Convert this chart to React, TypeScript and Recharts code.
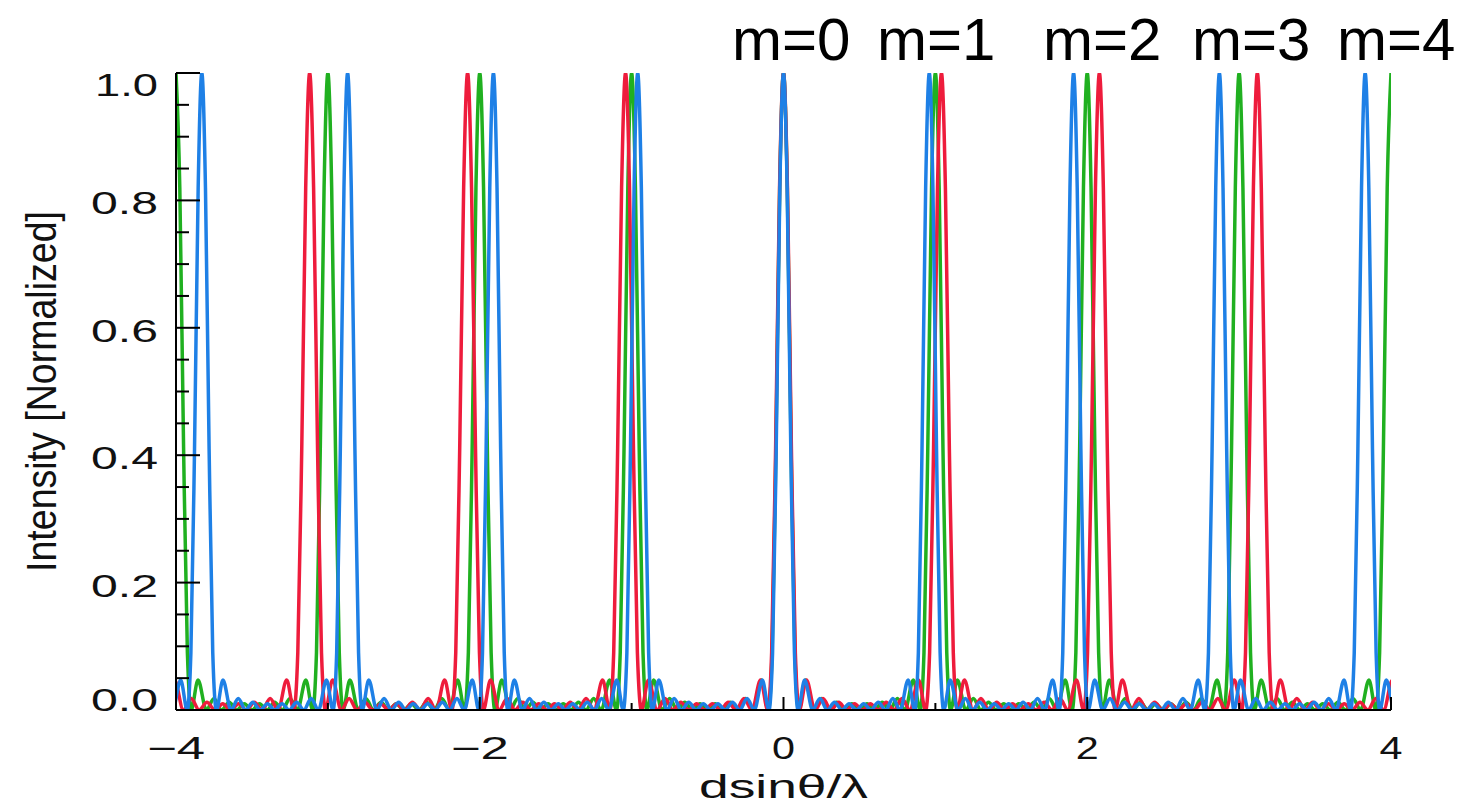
import { Line, LineChart, XAxis, YAxis } from 'recharts'

// peak positions (dsinθ/λ), one list per wavelength
const RED_PEAKS = [-4.16, -3.12, -2.08, -1.04, 0, 1.04, 2.08, 3.12, 4.16]
const GREEN_PEAKS = [-4, -3, -2, -1, 0, 1, 2, 3, 4]
const BLUE_PEAKS = [-4.79, -3.83, -2.87, -1.91, -0.96, 0, 0.96, 1.91, 2.87, 3.83, 4.79]

// shape of one period, from a principal peak to the next: fraction of the gap, intensity
const PROFILE_FRAC = [0, 0.025, 0.05, 0.075, 0.1, 0.145, 0.2, 0.25, 0.3, 0.35, 0.4, 0.45, 0.5, 0.55, 0.6, 0.65, 0.7, 0.75, 0.8, 0.855, 0.9, 0.925, 0.95, 0.975]
const PROFILE_VAL = [1, 0.82, 0.41, 0.09, 0, 0.047, 0, 0.018, 0, 0.012, 0, 0.01, 0, 0.01, 0, 0.012, 0, 0.018, 0, 0.047, 0, 0.09, 0.41, 0.82]

const X_TICKS = [-4, -3, -2, -1, 0, 1, 2, 3, 4]
const X_TOP_TICKS = [-3.5, -2.5, -1.5, -0.5, 0.5, 1.5, 2.5, 3.5]
const Y_TICKS = [0, 0.05, 0.1, 0.15, 0.2, 0.25, 0.3, 0.35, 0.4, 0.45, 0.5, 0.55, 0.6, 0.65, 0.7, 0.75, 0.8, 0.85, 0.9, 0.95, 1]
const ORDER_LABELS = ['m=0', 'm=1', 'm=2', 'm=3', 'm=4']

const RED = '#EE1C3C'
const GREEN = '#20B020'
const BLUE = '#1E80E6'
const FONT = '"Liberation Sans", Arial, sans-serif'

const W = 1454
const H = 803

function buildSeries(peaks: number[]) {
  const pts: { x: number; y: number }[] = []
  for (let i = 0; i < peaks.length - 1; i++) {
    const p0 = peaks[i]
    const gap = peaks[i + 1] - p0
    PROFILE_FRAC.forEach((f, j) => pts.push({ x: p0 + f * gap, y: PROFILE_VAL[j] }))
  }
  pts.push({ x: peaks[peaks.length - 1], y: 1 })
  return pts
}

const redData = buildSeries(RED_PEAKS)
const greenData = buildSeries(GREEN_PEAKS)
const blueData = buildSeries(BLUE_PEAKS)

const isMajorY = (v: number) => Math.round(v * 100) % 20 === 0

function BottomTick(props: any) {
  const { x, y, payload } = props
  const v = payload.value
  const major = v % 2 === 0
  const label = v < 0 ? '\u2212' + Math.abs(v) : String(v)
  return (
    <g>
      <line x1={x} x2={x} y1={y} y2={y - (major ? 13 : 7)} stroke="#000" strokeWidth={2} />
      {major && (
        <text x={x} y={y + 49} textAnchor="middle" fontFamily={FONT} fontSize={31} fill="#111"
          textLength={v < 0 ? 58 : 23} lengthAdjust="spacingAndGlyphs">{label}</text>
      )}
    </g>
  )
}

function TopTick(props: any) {
  const { x, y } = props
  return <line x1={x} x2={x} y1={y} y2={y + 7} stroke="#000" strokeWidth={2} />
}

function LeftTick(props: any) {
  const { x, y, payload } = props
  const v = payload.value
  const major = isMajorY(v)
  const dy = v === 1 ? 23 : v === 0 ? 1 : 14
  return (
    <g>
      <line x1={x} x2={x + (major ? 24 : 13)} y1={y} y2={y} stroke="#000" strokeWidth={2} />
      {major && (
        <text x={x - 18} y={y + dy} textAnchor="end" fontFamily={FONT} fontSize={31} fill="#111"
          textLength={v === 1 ? 63 : 67} lengthAdjust="spacingAndGlyphs">{v.toFixed(1)}</text>
      )}
    </g>
  )
}

function RightTick(props: any) {
  const { x, y, payload } = props
  const major = isMajorY(payload.value)
  return <line x1={x} x2={x - (major ? 27 : 15)} y1={y} y2={y} stroke="#000" strokeWidth={2} />
}

function XTitle(props: any) {
  const { x, y, width, height } = props.viewBox
  return (
    <text x={x + width / 2} y={y + height - 2} textAnchor="middle" fontFamily={FONT} fontSize={34} fill="#111"
      textLength={169} lengthAdjust="spacingAndGlyphs">dsinθ/λ</text>
  )
}

function YTitle(props: any) {
  const { x, y, height } = props.viewBox
  const cx = x - 20
  const cy = y + height / 2
  return (
    <text x={cx} y={cy} transform={`rotate(-90, ${cx}, ${cy})`} textAnchor="middle" fontFamily={FONT}
      fontSize={43} fill="#111" textLength={361} lengthAdjust="spacingAndGlyphs">Intensity [Normalized]</text>
  )
}

const axisLine = { stroke: '#000', strokeWidth: 2 }

export default function App() {
  return (
    <div style={{ position: 'relative', width: W, height: H }}>
      <LineChart width={W} height={H} margin={{ top: 65, right: 71, bottom: 11, left: 68 }}>
        <XAxis dataKey="x" type="number" domain={[-4, 4]} allowDataOverflow ticks={X_TICKS} interval={0}
          height={90} tickSize={0} tickMargin={0} tickLine={false} axisLine={axisLine} tick={BottomTick}
          label={<XTitle />} />
        <XAxis xAxisId="top" orientation="top" dataKey="x" type="number" domain={[-4, 4]} allowDataOverflow
          ticks={X_TOP_TICKS} interval={0} height={0} tickSize={0} tickMargin={0} tickLine={false}
          axisLine={axisLine} tick={TopTick} />
        <YAxis type="number" domain={[0, 1]} allowDataOverflow ticks={Y_TICKS} interval={0} width={100}
          tickSize={0} tickMargin={0} tickLine={false} axisLine={axisLine} tick={LeftTick} label={<YTitle />} />
        <YAxis yAxisId="right" orientation="right" type="number" domain={[0, 1]} allowDataOverflow ticks={Y_TICKS}
          interval={0} width={0} tickSize={0} tickMargin={0} tickLine={false} axisLine={axisLine} tick={RightTick} />
        <Line data={greenData} dataKey="y" type="monotone" stroke={GREEN} strokeWidth={3.5} dot={false}
          activeDot={false} isAnimationActive={false} />
        <Line data={redData} dataKey="y" type="monotone" stroke={RED} strokeWidth={3.5} dot={false}
          activeDot={false} isAnimationActive={false} />
        <Line data={blueData} dataKey="y" type="monotone" stroke={BLUE} strokeWidth={3.5} dot={false}
          activeDot={false} isAnimationActive={false} />
      </LineChart>
      <svg width={W} height={H} style={{ position: 'absolute', left: 0, top: 0, pointerEvents: 'none', overflow: 'visible' }}>
        {ORDER_LABELS.map((t, i) => (
          <text key={t} x={[724, 869, 1035, 1184, 1329][i]} y={52} fontFamily={FONT} fontSize={60} fill="#000">{t}</text>
        ))}
      </svg>
    </div>
  )
}
